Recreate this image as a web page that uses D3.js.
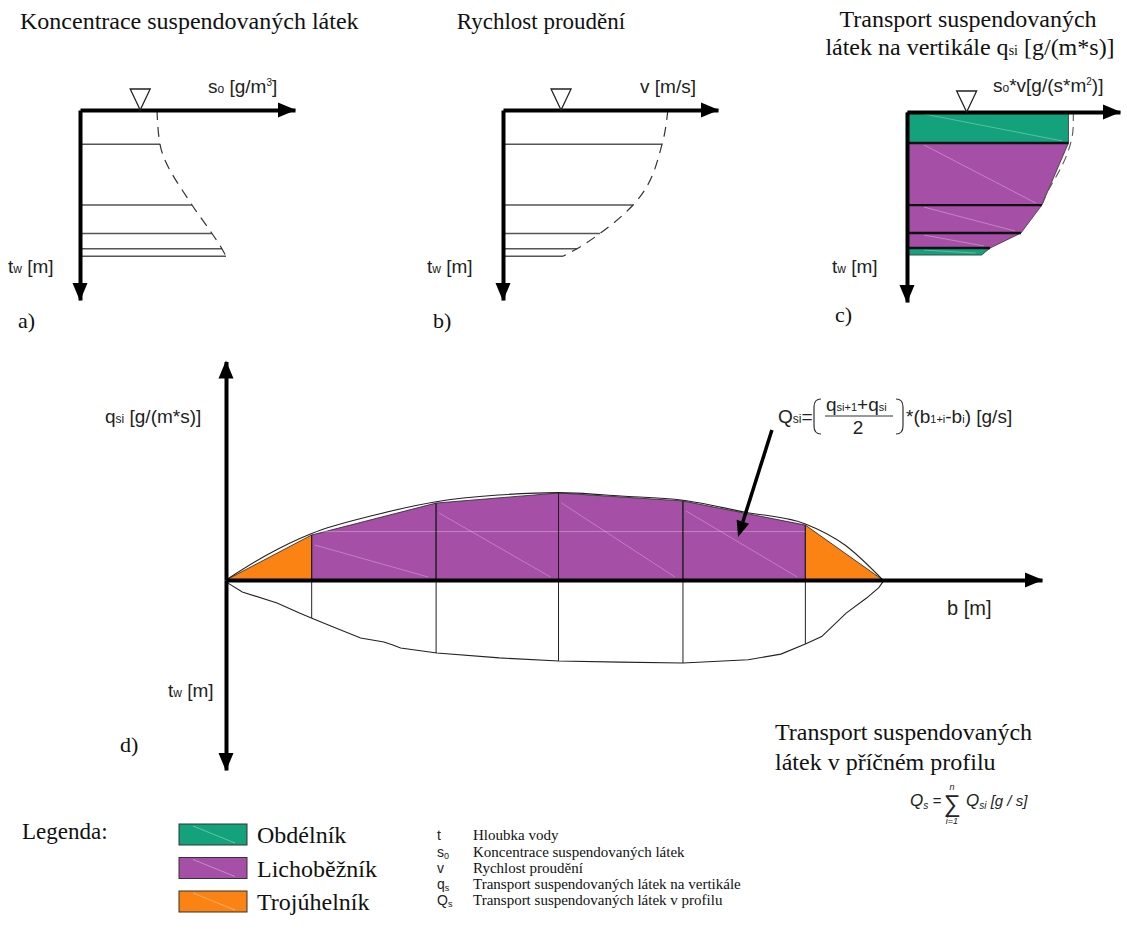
<!DOCTYPE html>
<html>
<head>
<meta charset="utf-8">
<script src="https://cdnjs.cloudflare.com/ajax/libs/d3/7.8.5/d3.min.js"></script>
<style>
    body { margin: 0; background: #fff; }
    svg text { font-family: "Liberation Sans", Arial, sans-serif; fill: #222; }
    svg text.serif { font-family: "Liberation Serif", "Times New Roman", serif; fill: #111; }
    .axis .domain { stroke: #000; stroke-width: 4; }
</style>
</head>
<body>
<svg id="chart" width="1127" height="930"></svg>
<script>

// ---- data ----
// a), b): relative depth of the measuring points and measured profiles
var depthLevels = [0, 0.18, 0.5, 0.65, 0.73, 0.77];
var concentration = [0.358, 0.372, 0.521, 0.614, 0.66, 0.679];
var velocity = [0.767, 0.74, 0.605, 0.451, 0.344, 0.279];

// c): s0*v on the vertical, split into shapes
var transportDepths = [0, 0.163, 0.49, 0.637, 0.716, 0.753];
var transportValues = [0.758, 0.758, 0.633, 0.535, 0.39, 0.35];
var transportShapes = ["Obdélník", "Lichoběžník", "Lichoběžník", "Lichoběžník", "Obdélník"];
var measuredDepths = [0, 0.08, 0.24, 0.32, 0.42, 0.49];
var measuredValues = [0.781, 0.78, 0.745, 0.71, 0.66, 0.633];

// d): verticals across the profile
var verticalB = [0, 2.1, 5.15, 8.15, 11.2, 14.2, 16.1];
var verticalQ = [0, 2.37, 4.05, 4.58, 4.16, 2.89, 0];
var verticalDepth = [0, 2.0, 3.84, 4.26, 4.37, 3.37, 0];

// measured qsi curve over the width
var profileB = [0, 1.0, 2.1, 3.65, 5.15, 6.67, 8.15, 9.68, 11.2, 12.7, 14.2, 15.17, 16.1];
var profileQ = [0, 1.32, 2.45, 3.42, 4.12, 4.47, 4.6, 4.42, 4.2, 3.58, 2.95, 1.84, 0];

// river bed
var bedB = [0, 0.4, 1.25, 1.8, 2.15, 2.63, 3.3, 3.87, 4.09, 4.28, 5.17, 6.7, 8.16, 9.66, 11.2, 12.8, 13.6, 14.2, 14.6, 15.2, 15.7, 16.0, 16.1];
var bedT = [0.1, 0.63, 1.21, 1.74, 2.05, 2.47, 3.05, 3.26, 3.42, 3.58, 3.84, 4.1, 4.26, 4.32, 4.37, 4.2, 3.9, 3.37, 2.98, 1.74, 0.95, 0.4, 0.1];

// legend
var shapeNames = ["Obdélník", "Lichoběžník", "Trojúhelník"];
var shapeColors = ["#13a27c", "#a64fa6", "#fb8313"];
var symbolNames = ["t", "s", "v", "q", "Q"];
var symbolSubs = ["", "0", "", "s", "s"];
var symbolTexts = ["Hloubka vody", "Koncentrace suspendovaných látek", "Rychlost proudění",
    "Transport suspendovaných látek na vertikále", "Transport suspendovaných látek v profilu"];

var color = d3.scaleOrdinal().domain(shapeNames).range(shapeColors);

var svg = d3.select("#chart");

// write a label made of pieces [text, size, dy]
function label(sel, x, y, parts, cls, anchor) {
    var t = sel.append("text")
        .attr("x", x).attr("y", y)
        .attr("class", cls || null)
        .attr("text-anchor", anchor || "start");
    parts.forEach(function (p) {
        t.append("tspan")
            .attr("font-size", p[1])
            .attr("dy", p[2] || 0)
            .text(p[0]);
    });
    return t;
}

function arrowRight(g, x1, y0) {
    g.append("path")
        .attr("d", "M" + (x1 - 17) + "," + (y0 - 7.5) + "L" + (x1 + 1) + "," + y0 + "L" + (x1 - 17) + "," + (y0 + 7.5) + "Z")
        .attr("fill", "#000");
}
function arrowVert(g, x0, y1, dir) {
    g.append("path")
        .attr("d", "M" + (x0 - 7.5) + "," + (y1 - 17 * dir) + "L" + x0 + "," + (y1 + dir) + "L" + (x0 + 7.5) + "," + (y1 - 17 * dir) + "Z")
        .attr("fill", "#000");
}

function drawAxes(g, x, y) {
    g.append("g").attr("class", "axis")
        .attr("transform", "translate(0," + y.range()[0] + ")")
        .call(d3.axisTop(x).tickValues([]).tickSizeOuter(0));
    g.append("g").attr("class", "axis")
        .attr("transform", "translate(" + x.range()[0] + ",0)")
        .call(d3.axisLeft(y).tickValues([]).tickSizeOuter(0));
    arrowRight(g, x.range()[1], y.range()[0]);
    arrowVert(g, x.range()[0], y.range()[1], 1);
}

function waterMark(g, cx, y0) {
    g.append("path")
        .attr("d", "M" + (cx - 10) + "," + (y0 - 21) + "L" + (cx + 10) + "," + (y0 - 21) + "L" + cx + "," + y0 + "Z")
        .attr("fill", "#fff").attr("stroke", "#222").attr("stroke-width", 1.3);
}

// ---- panels a) and b) ----
var profilePanels = [
    { ox: 80, oy: 110, values: concentration, mark: 0.28 },
    { ox: 503, oy: 110, values: velocity, mark: 0.27 }
];

profilePanels.forEach(function (p) {
    var x = d3.scaleLinear().domain([0, 1]).range([p.ox, p.ox + 215]);
    var y = d3.scaleLinear().domain([0, 1]).range([p.oy, p.oy + 190]);
    var g = svg.append("g");

    // horizontal measuring lines
    g.selectAll(".lvl")
        .data(depthLevels.slice(1))
        .enter().append("line")
        .attr("x1", x(0))
        .attr("x2", function (d, i) { return x(p.values[i + 1]); })
        .attr("y1", function (d) { return y(d); })
        .attr("y2", function (d) { return y(d); })
        .attr("stroke", "#555").attr("stroke-width", 1.4);

    // dashed profile
    var curve = d3.line()
        .x(function (d, i) { return x(p.values[i]); })
        .y(function (d) { return y(d); })
        .curve(d3.curveMonotoneY);
    g.append("path")
        .datum(depthLevels)
        .attr("d", curve)
        .attr("fill", "none").attr("stroke", "#333").attr("stroke-width", 1.2)
        .attr("stroke-dasharray", "10,7");

    drawAxes(g, x, y);
    waterMark(g, x(p.mark), y(0));
});

// ---- panel c) ----
(function () {
    var x = d3.scaleLinear().domain([0, 1]).range([907, 1120]);
    var y = d3.scaleLinear().domain([0, 1]).range([112, 302]);
    var g = svg.append("g");

    var layers = transportShapes.map(function (s, i) {
        return { shape: s, d0: transportDepths[i], d1: transportDepths[i + 1], v0: transportValues[i], v1: transportValues[i + 1] };
    });

    g.selectAll(".layer")
        .data(layers)
        .enter().append("path")
        .attr("d", function (d) {
            return "M" + x(0) + "," + y(d.d0) + "L" + x(d.v0) + "," + y(d.d0) +
                "L" + x(d.v1) + "," + y(d.d1) + "L" + x(0) + "," + y(d.d1) + "Z";
        })
        .attr("fill", function (d) { return color(d.shape); })
        .attr("stroke", "#333").attr("stroke-width", 0.8);

    // faint stripes
    g.selectAll(".stripe")
        .data(layers)
        .enter().append("line")
        .attr("x1", x(0.08)).attr("y1", function (d) { return y(d.d0) + 2; })
        .attr("x2", function (d) { return x(d.v1) - 6; })
        .attr("y2", function (d) { return y(d.d1) - 2; })
        .attr("stroke", "#fff").attr("stroke-opacity", 0.3).attr("stroke-width", 1);

    // dividing lines
    g.selectAll(".div")
        .data(transportDepths.slice(1, 5))
        .enter().append("line")
        .attr("x1", x(0))
        .attr("x2", function (d, i) { return x(transportValues[i + 1]); })
        .attr("y1", function (d) { return y(d); })
        .attr("y2", function (d) { return y(d); })
        .attr("stroke", "#111").attr("stroke-width", 2.4);

    var curve = d3.line()
        .x(function (d, i) { return x(measuredValues[i]); })
        .y(function (d) { return y(d); })
        .curve(d3.curveMonotoneY);
    g.append("path")
        .datum(measuredDepths)
        .attr("d", curve)
        .attr("fill", "none").attr("stroke", "#555").attr("stroke-width", 1.1)
        .attr("stroke-dasharray", "9,6");

    drawAxes(g, x, y);
    waterMark(g, x(0.28), y(0));
})();

// ---- panel d) ----
var xD = d3.scaleLinear().domain([0, 20]).range([226, 1042]);
var yQ = d3.scaleLinear().domain([0, 10]).range([580, 390]);
var yT = d3.scaleLinear().domain([0, 10]).range([580, 770]);
var qAxisTop = 11.5;

(function () {
    var g = svg.append("g");

    var segments = verticalB.slice(1).map(function (b, i) {
        var q0 = verticalQ[i], q1 = verticalQ[i + 1];
        return { b0: verticalB[i], b1: b, q0: q0, q1: q1, shape: (q0 === 0 || q1 === 0) ? "Trojúhelník" : "Lichoběžník" };
    });

    g.selectAll(".seg")
        .data(segments)
        .enter().append("path")
        .attr("d", function (d) {
            return "M" + xD(d.b0) + "," + yQ(0) + "L" + xD(d.b0) + "," + yQ(d.q0) +
                "L" + xD(d.b1) + "," + yQ(d.q1) + "L" + xD(d.b1) + "," + yQ(0) + "Z";
        })
        .attr("fill", function (d) { return color(d.shape); })
        .attr("stroke", "#222").attr("stroke-width", 0.8);

    // faint stripes in the trapezoids
    g.selectAll(".stripe")
        .data(segments.filter(function (d) { return d.shape === "Lichoběžník"; }))
        .enter().append("line")
        .attr("x1", function (d) { return xD(d.b0) + 3; })
        .attr("y1", function (d) { return yQ(d.q0) + 10; })
        .attr("x2", function (d) { return xD(d.b1) - 8; })
        .attr("y2", yQ(0) - 3)
        .attr("stroke", "#fff").attr("stroke-opacity", 0.28);
    g.append("line")
        .attr("x1", xD(verticalB[1])).attr("x2", xD(verticalB[5]))
        .attr("y1", yQ(2.55)).attr("y2", yQ(2.55))
        .attr("stroke", "#fff").attr("stroke-opacity", 0.3);

    // measured qsi curve
    var top = d3.line()
        .x(function (d) { return xD(d); })
        .y(function (d, i) { return yQ(profileQ[i]); })
        .curve(d3.curveMonotoneX);
    g.append("path")
        .datum(profileB)
        .attr("d", top)
        .attr("fill", "none").attr("stroke", "#222").attr("stroke-width", 1.1);

    // river bed
    var bed = d3.line()
        .x(function (d) { return xD(d); })
        .y(function (d, i) { return yT(bedT[i]); });
    g.append("path")
        .datum(bedB)
        .attr("d", bed)
        .attr("fill", "none").attr("stroke", "#222").attr("stroke-width", 1.1);

    // verticals
    g.selectAll(".vert")
        .data(verticalB.slice(1, 6))
        .enter().append("line")
        .attr("x1", function (d) { return xD(d); })
        .attr("x2", function (d) { return xD(d); })
        .attr("y1", function (d, i) { return yQ(verticalQ[i + 1]); })
        .attr("y2", function (d, i) { return yT(verticalDepth[i + 1]); })
        .attr("stroke", "#222").attr("stroke-width", 1);

    // axes
    var yAxisUp = yQ.copy().domain([0, qAxisTop]).range([580, yQ(qAxisTop)]);
    g.append("g").attr("class", "axis")
        .attr("transform", "translate(0," + yQ(0) + ")")
        .call(d3.axisTop(xD).tickValues([]).tickSizeOuter(0));
    g.append("g").attr("class", "axis")
        .attr("transform", "translate(" + xD(0) + ",0)")
        .call(d3.axisLeft(yAxisUp).tickValues([]).tickSizeOuter(0));
    g.append("g").attr("class", "axis")
        .attr("transform", "translate(" + xD(0) + ",0)")
        .call(d3.axisLeft(yT).tickValues([]).tickSizeOuter(0));
    arrowRight(g, xD.range()[1], yQ(0));
    arrowVert(g, xD(0), yAxisUp.range()[1], -1);
    arrowVert(g, xD(0), yT.range()[1], 1);

    // pointer to one trapezoid
    var p0 = [xD(13.38), yQ(7.89)], p1 = [xD(12.55), yQ(2.26)];
    var ang = Math.atan2(p1[1] - p0[1], p1[0] - p0[0]);
    var hx = p1[0] - 16 * Math.cos(ang), hy = p1[1] - 16 * Math.sin(ang);
    g.append("line")
        .attr("x1", p0[0]).attr("y1", p0[1]).attr("x2", hx).attr("y2", hy)
        .attr("stroke", "#000").attr("stroke-width", 3.5);
    g.append("path")
        .attr("d", "M" + p1[0] + "," + p1[1] +
            "L" + (hx + 6.5 * Math.sin(ang)) + "," + (hy - 6.5 * Math.cos(ang)) +
            "L" + (hx - 6.5 * Math.sin(ang)) + "," + (hy + 6.5 * Math.cos(ang)) + "Z")
        .attr("fill", "#000");
})();

// ---- texts ----
label(svg, 20, 29, [["Koncentrace suspendovaných látek", 24]], "serif");
label(svg, 541, 29, [["Rychlost proudění", 23]], "serif", "middle");
label(svg, 968, 27, [["Transport suspendovaných", 24]], "serif", "middle");
label(svg, 970, 55, [["látek na vertikále q", 24], ["si", 14], [" [g/(m*s)]", 24]], "serif", "middle");

label(svg, 208, 93, [["s", 19], ["o", 12], [" [g/m", 19], ["3", 10, -7], ["]", 19, 7]]);
label(svg, 640, 93, [["v [m/s]", 19]]);
label(svg, 993, 92, [["s", 19], ["o", 12], ["*v[g/(s*m", 19], ["2", 10, -7], [")]", 19, 7]]);

[8, 427, 832].forEach(function (x) {
    label(svg, x, 273, [["t", 19], ["w", 12], [" [m]", 19]]);
});
label(svg, 18, 328, [["a)", 22]], "serif");
label(svg, 433, 328, [["b)", 22]], "serif");
label(svg, 835, 322, [["c)", 22]], "serif");

label(svg, 105, 423, [["q", 19], ["si", 12], [" [g/(m*s)]", 19]]);
label(svg, 947, 615, [["b [m]", 20]]);
label(svg, 168, 697, [["t", 19], ["w", 12], [" [m]", 19]]);
label(svg, 120, 752, [["d)", 22]], "serif");

// formula Qsi
label(svg, 778, 423, [["Q", 19], ["si", 12], ["=", 19]]);
label(svg, 826, 411, [["q", 19], ["si+1", 11], ["+q", 19], ["si", 11]]);
svg.append("line").attr("x1", 825).attr("x2", 893).attr("y1", 416).attr("y2", 416)
    .attr("stroke", "#333").attr("stroke-width", 1);
label(svg, 858, 434, [["2", 19]], null, "middle");
svg.append("path").attr("d", "M821,399 Q814,399 814,407 L814,426 Q814,434 821,434")
    .attr("fill", "none").attr("stroke", "#333").attr("stroke-width", 1.2);
svg.append("path").attr("d", "M896,399 Q903,399 903,407 L903,426 Q903,434 896,434")
    .attr("fill", "none").attr("stroke", "#333").attr("stroke-width", 1.2);
label(svg, 906, 423, [["*(b", 19], ["1+i", 11], ["-b", 19], ["i", 11], [") [g/s]", 19]]);

// cross-section total
label(svg, 775, 740, [["Transport suspendovaných", 24]], "serif");
label(svg, 775, 770, [["látek v příčném profilu", 24]], "serif");
var qs = label(svg, 910, 806, [["Q", 17], ["s", 10, 3], [" = ", 15, -3]]);
qs.attr("font-style", "italic");
label(svg, 952, 812, [["∑", 24]], null, "middle");
label(svg, 952, 790, [["n", 9]], null, "middle").attr("font-style", "italic");
label(svg, 952, 824, [["i=1", 9]], null, "middle").attr("font-style", "italic");
label(svg, 966, 806, [["Q", 17], ["si", 10, 3], ["  [g / s]", 15, -3]]).attr("font-style", "italic");

// ---- legend ----
label(svg, 22, 839, [["Legenda:", 23]], "serif");
var leg = svg.append("g").selectAll("g")
    .data(shapeNames)
    .enter().append("g")
    .attr("transform", function (d, i) { return "translate(179," + (824 + i * 33.5) + ")"; });
leg.append("rect")
    .attr("width", 68).attr("height", 21)
    .attr("fill", function (d) { return color(d); })
    .attr("stroke", "#333").attr("stroke-width", 1);
leg.append("line")
    .attr("x1", 14).attr("y1", 2).attr("x2", 56).attr("y2", 19)
    .attr("stroke", "#fff").attr("stroke-opacity", 0.35);
leg.append("text")
    .attr("class", "serif")
    .attr("x", 78).attr("y", 19)
    .attr("font-size", 24)
    .text(function (d) { return d; });

var symBase = [840, 857, 873, 889, 905];
symbolNames.forEach(function (s, i) {
    label(svg, 437, symBase[i], [[s, 14], [symbolSubs[i], 9, 2]]);
    label(svg, 473, symBase[i], [[symbolTexts[i], 15]], "serif");
});

</script>
</body>
</html>
